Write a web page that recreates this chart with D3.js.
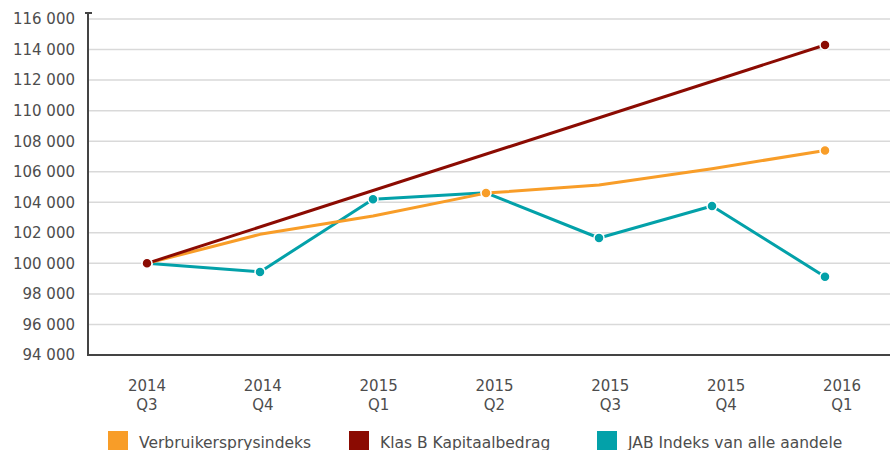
<!DOCTYPE html>
<html>
<head>
<meta charset="utf-8">
<script src="https://cdn.jsdelivr.net/npm/d3@7"></script>
<style>
  html, body { margin: 0; padding: 0; background: #fff; }
  svg { display: block; font-family: Verdana, "DejaVu Sans", sans-serif; }
</style>
</head>
<body>
<svg id="chart" width="890" height="450"></svg>
<script>
// ---- data ----
const categories = ["2014 Q3", "2014 Q4", "2015 Q1", "2015 Q2", "2015 Q3", "2015 Q4", "2016 Q1"];
const cpi   = [100000, 101900, 103100, 104600, 105130, 106200, 107390];
const klasB = [100000, null, null, null, null, null, 114300];
const jab   = [100000, 99440, 104200, 104620, 101660, 103760, 99130];
const cpiMarkers = [0, 3, 6];
const yTicks = [94000, 96000, 98000, 100000, 102000, 104000, 106000, 108000, 110000, 112000, 114000, 116000];
const seriesNames = ["Verbruikersprysindeks", "Klas B Kapitaalbedrag", "JAB Indeks van alle aandele"];

const colors = { cpi: "#F89D28", klasB: "#8B0B02", jab: "#03A1A9" };
const textColor = "#4d4d4d";

const svg = d3.select("#chart");
const plotL = 88, plotR = 890, plotT = 19, plotB = 355;

const y = d3.scaleLinear().domain([94000, 116000]).range([plotB, plotT]);
const x = d3.scalePoint().domain(categories).range([147, 825]);
const xLab = d3.scalePoint().domain(categories).range([147, 842]);

const fmt = v => d3.format(",")(v).replace(/,/g, " ");

// gridlines
svg.append("g").selectAll("line").data(yTicks.filter(t => t > 94000)).join("line")
  .attr("x1", plotL).attr("x2", plotR)
  .attr("y1", d => y(d)).attr("y2", d => y(d))
  .attr("stroke", "#d9d9d9").attr("stroke-width", 1.5);

// y axis labels
svg.append("g").selectAll("text").data(yTicks).join("text")
  .attr("x", 75).attr("y", d => y(d)).attr("dy", "0.36em")
  .attr("text-anchor", "end").attr("font-size", 15).attr("fill", textColor)
  .text(fmt);

// axes lines
svg.append("line").attr("x1", plotL).attr("x2", plotL).attr("y1", plotT - 6).attr("y2", plotB + 1)
  .attr("stroke", "#444").attr("stroke-width", 2);
svg.append("line").attr("x1", plotL - 3).attr("x2", plotL + 4).attr("y1", plotT - 6).attr("y2", plotT - 6)
  .attr("stroke", "#444").attr("stroke-width", 2);
svg.append("line").attr("x1", plotL - 1).attr("x2", plotR).attr("y1", plotB).attr("y2", plotB)
  .attr("stroke", "#444").attr("stroke-width", 2);

// x labels
const xl = svg.append("g").selectAll("text").data(categories).join("text")
  .attr("text-anchor", "middle").attr("font-size", 15).attr("fill", textColor);
xl.each(function(d) {
  const parts = d.split(" ");
  const t = d3.select(this);
  t.append("tspan").attr("x", xLab(d)).attr("y", 391).text(parts[0]);
  t.append("tspan").attr("x", xLab(d)).attr("y", 410).text(parts[1]);
});

const line = d3.line().defined(d => d.v != null).x(d => x(d.c)).y(d => y(d.v));
function draw(values, color, markerIdx) {
  const pts = values.map((v, i) => ({ c: categories[i], v, i }));
  const defined = pts.filter(d => d.v != null);
  svg.append("path").datum(defined).attr("d", line)
    .attr("fill", "none").attr("stroke", color).attr("stroke-width", 3)
    .attr("stroke-linejoin", "round");
  svg.append("g").selectAll("circle")
    .data(defined.filter(d => markerIdx ? markerIdx.includes(d.i) : true)).join("circle")
    .attr("cx", d => x(d.c)).attr("cy", d => y(d.v)).attr("r", 5)
    .attr("fill", color).attr("stroke", "#fff").attr("stroke-width", 1.5);
}
draw(jab, colors.jab, null);
draw(cpi, colors.cpi, cpiMarkers);
draw(klasB, colors.klasB, null);

// legend
const legend = [
  { name: seriesNames[0], color: colors.cpi, x: 108 },
  { name: seriesNames[1], color: colors.klasB, x: 349 },
  { name: seriesNames[2], color: colors.jab, x: 597 }
];
const lg = svg.append("g").selectAll("g").data(legend).join("g");
lg.append("rect").attr("x", d => d.x).attr("y", 431).attr("width", 20).attr("height", 20)
  .attr("fill", d => d.color);
lg.append("text").attr("x", d => d.x + 31).attr("y", 448)
  .attr("font-size", 15.5).attr("fill", textColor).text(d => d.name);
</script>
</body>
</html>
